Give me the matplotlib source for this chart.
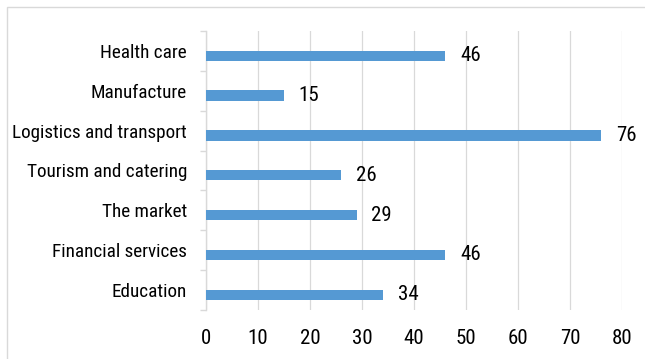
import numpy as np
import matplotlib
matplotlib.use("Agg")
import matplotlib.pyplot as plt
from matplotlib import font_manager
from matplotlib.patches import Rectangle

# dati (dall'alto verso il basso)
settori = ["Health care", "Manufacture", "Logistics and transport",
           "Tourism and catering", "The market", "Financial services", "Education"]
valori = [46, 15, 76, 26, 29, 46, 34]
tick_x = [0, 10, 20, 30, 40, 50, 60, 70, 80]

colore_barra = "#5599D3"
grigio = "#d9d9d9"

# ricerca di un font stretto (tipo Arial Narrow), altrimenti Liberation Sans piu piccolo
font_stretto = None
for f in font_manager.fontManager.ttflist:
    nome_file = f.fname.lower()
    if ("narrow" in nome_file or "condensed" in nome_file) and "semi" not in nome_file \
            and "extra" not in nome_file and "ultra" not in nome_file \
            and f.weight in (400, "normal", "regular") and f.style == "normal":
        font_stretto = f.fname
        if "liberation" in nome_file:
            break

if font_stretto:
    fp_num = font_manager.FontProperties(fname=font_stretto, size=15)
    fp_cat = font_manager.FontProperties(fname=font_stretto, size=13.8)
else:
    fp_num = font_manager.FontProperties(family=["Liberation Sans", "DejaVu Sans"], size=12.3)
    fp_cat = fp_num

fig = plt.figure(figsize=(6.45, 3.59), dpi=100)
ax = fig.add_axes([206 / 645, 1 - 310 / 359, (622.3 - 206) / 645, (310 - 31) / 359])

n = len(settori)
pos = np.arange(n)[::-1]  # Health care in alto
ax.barh(pos - 0.12, valori, height=0.26, color=colore_barra, zorder=3)

for p, v in zip(pos, valori):
    ax.annotate(str(v), xy=(v, p - 0.12), xytext=(10.5, 0), textcoords="offset points",
                va="center", ha="left", fontproperties=fp_num, color="black")

ax.set_xlim(0, 80)
ax.set_ylim(-0.5, n - 0.5)
ax.set_xticks(tick_x)
ax.set_yticks(pos)
ax.set_yticklabels(settori)
ax.set_yticks(np.arange(-0.5, n, 1.0), minor=True)
ax.tick_params(axis="y", which="major", length=0, pad=13.7)
ax.tick_params(axis="y", which="minor", length=4.3, width=1, color=grigio)
ax.tick_params(axis="x", length=0, pad=13.7)
for etichetta in ax.get_xticklabels():
    etichetta.set_fontproperties(fp_num)
for etichetta in ax.get_yticklabels():
    etichetta.set_fontproperties(fp_cat)

ax.grid(axis="x", color=grigio, linewidth=0.9, zorder=0)
ax.set_axisbelow(True)
for lato in ["top", "right", "bottom"]:
    ax.spines[lato].set_visible(False)
ax.spines["left"].set_color(grigio)
ax.spines["left"].set_linewidth(1)

# cornice del grafico
fig.patches.append(Rectangle((7 / 645, -0.1), 1.2, 1 - 7 / 359 + 0.1, transform=fig.transFigure,
                             fill=False, edgecolor=grigio, linewidth=1))

fig.savefig("out.png", dpi=100)
